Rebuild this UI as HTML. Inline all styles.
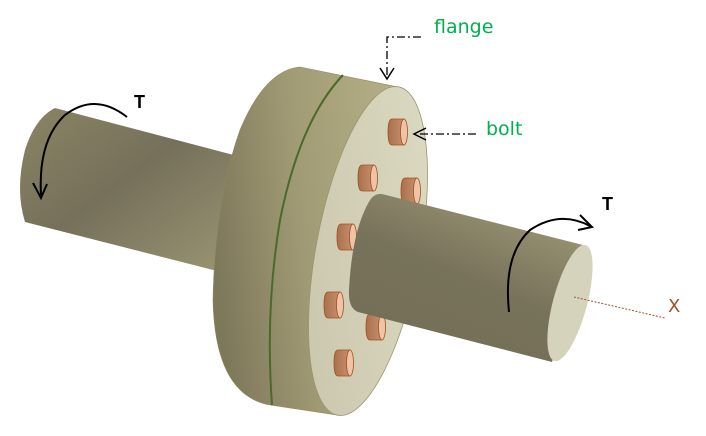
<!DOCTYPE html>
<html><head><style>body{margin:0;background:#fff}svg{display:block}</style></head><body>
<svg width="706" height="436" viewBox="0 0 706 436" xmlns="http://www.w3.org/2000/svg">
<defs>
<linearGradient id="sh" x1="0" y1="0" x2="1" y2="1">
<stop offset="0" stop-color="#8a8564"/><stop offset="0.45" stop-color="#75705a"/><stop offset="1" stop-color="#9d9775"/></linearGradient>
<linearGradient id="sh2" x1="0.2" y1="1" x2="0.8" y2="0">
<stop offset="0" stop-color="#736e55"/><stop offset="0.5" stop-color="#77725a"/><stop offset="1" stop-color="#a09a78"/></linearGradient>
<linearGradient id="fl" x1="0" y1="0.5" x2="1" y2="0.3">
<stop offset="0" stop-color="#7e785b"/><stop offset="0.5" stop-color="#a29c76"/><stop offset="1" stop-color="#b4ae86"/></linearGradient>
<linearGradient id="ff" x1="0" y1="1" x2="1" y2="0">
<stop offset="0" stop-color="#c8c5ab"/><stop offset="1" stop-color="#dedbc4"/></linearGradient>
<linearGradient id="bo" x1="0" y1="0" x2="1" y2="0">
<stop offset="0" stop-color="#a8704a"/><stop offset="1" stop-color="#c99070"/></linearGradient>
<g id="bolt">
<path d="M4,0 H16 V26 H4 Q0,26 0,13 Q0,0 4,0Z" fill="url(#bo)" stroke="#a0501e" stroke-width="0.8"/>
<ellipse cx="16" cy="13" rx="3.5" ry="13" fill="#eec3a8" stroke="#a0501e" stroke-width="0.8"/>
</g>
</defs>
<path d="M55,108 L245,158 L225,273 L25,222 Q15,190 25,150 Q35,118 55,108Z" fill="url(#sh)"/>
<path d="M300,67 L398,87 L337,415 L270,405 Q215,395 213,300 Q215,200 240,130 Q265,70 300,67Z" fill="url(#fl)" stroke="#8d8760" stroke-width="0.6"/>
<path d="M343,75 Q300,120 280,220 Q265,310 272,405" fill="none" stroke="#4a6a2a" stroke-width="2"/>
<ellipse cx="368" cy="251" rx="52" ry="167" transform="rotate(10.5 368 251)" fill="url(#ff)" stroke="#9a956e" stroke-width="0.8"/>
<use href="#bolt" x="388" y="119"/>
<use href="#bolt" x="358" y="165"/>
<use href="#bolt" x="401" y="178"/>
<use href="#bolt" x="337" y="224"/>
<use href="#bolt" x="324" y="292"/>
<use href="#bolt" x="366" y="314"/>
<use href="#bolt" x="334" y="350"/>
<path d="M382,194 L583,245 L552,362 L358,312 Q348,308 349,290 Q352,230 370,200 Q375,193 382,194Z" fill="url(#sh2)"/>
<ellipse cx="570" cy="303" rx="17" ry="60" transform="rotate(15 570 303)" fill="#d6d3bd"/>
<line x1="574" y1="297" x2="665" y2="318" stroke="#a0522d" stroke-width="1" stroke-dasharray="2,1.5"/>
<text x="668" y="312" font-family="DejaVu Sans, sans-serif" font-size="18" fill="#a0522d">X</text>
<path d="M127,117 Q95,92 65,115 Q38,140 41,195" fill="none" stroke="#000" stroke-width="2"/>
<path d="M33,183 L41,198 L47,184" fill="none" stroke="#000" stroke-width="2"/>
<text x="134" y="108" font-family="Liberation Sans, sans-serif" font-size="18" font-weight="bold">T</text>
<path d="M509,312 Q503,255 530,230 Q560,210 590,226" fill="none" stroke="#000" stroke-width="2"/>
<path d="M580,215 L592,227 L578,230" fill="none" stroke="#000" stroke-width="2"/>
<text x="602" y="210" font-family="Liberation Sans, sans-serif" font-size="18" font-weight="bold">T</text>
<path d="M421,37 H387 V76" fill="none" stroke="#000" stroke-width="1.3" stroke-dasharray="8,3,2,3"/>
<path d="M380,68 L387,79 L394,68" fill="none" stroke="#000" stroke-width="1.5"/>
<text x="434" y="33" font-family="DejaVu Sans, sans-serif" font-size="19" fill="#00b050">flange</text>
<path d="M476,134 H418" fill="none" stroke="#000" stroke-width="1.3" stroke-dasharray="8,3,2,3"/>
<path d="M426,128 L414,134 L426,140" fill="none" stroke="#000" stroke-width="1.5"/>
<text x="486" y="135" font-family="DejaVu Sans, sans-serif" font-size="19" fill="#00b050">bolt</text>
</svg>
</body></html>
